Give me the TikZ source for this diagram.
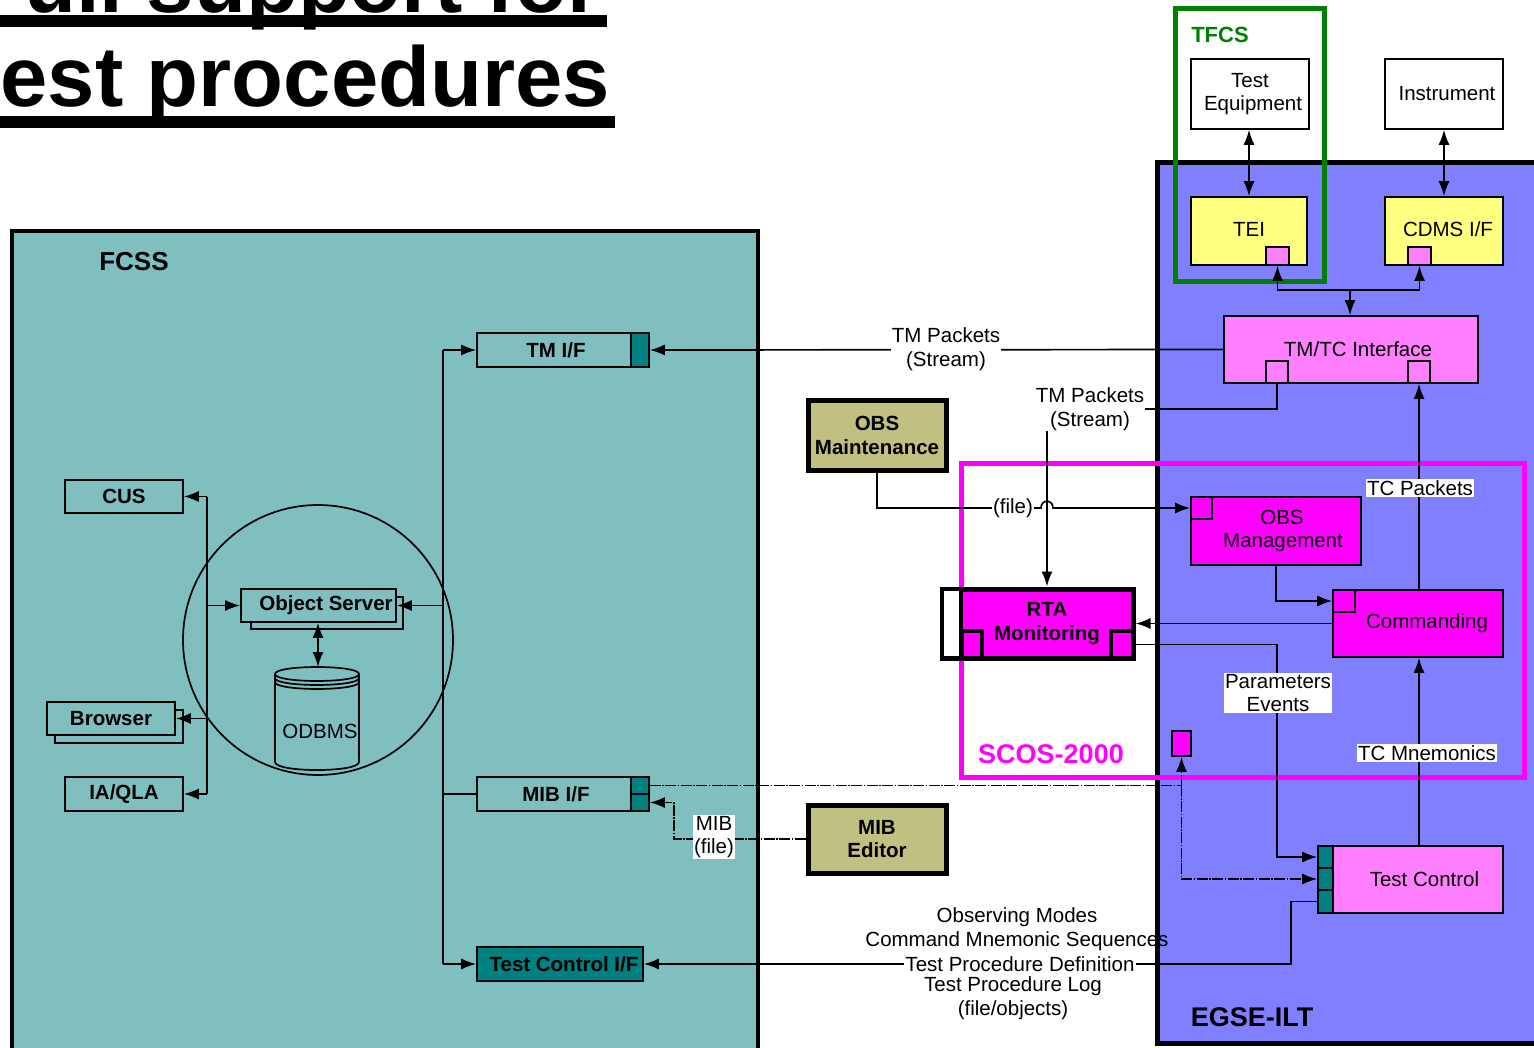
\documentclass[tikz,border=0pt]{standalone}
\usepackage{fontspec}
\setmainfont{Liberation Sans}
\usetikzlibrary{arrows.meta}
\definecolor{cFcss}{RGB}{128,191,191}
\definecolor{cDteal}{RGB}{0,128,128}
\definecolor{cEgse}{RGB}{128,128,255}
\definecolor{cMag}{RGB}{255,0,255}
\definecolor{cPink}{RGB}{255,128,255}
\definecolor{cYel}{RGB}{255,255,128}
\definecolor{cOlive}{RGB}{192,192,128}
\definecolor{cGreen}{RGB}{0,128,0}
\newcommand\myNF{\fontsize{20.5}{23.5}\selectfont}
\newcommand\myBF{\fontsize{20.5}{23.5}\selectfont\bfseries}
\tikzset{
  box/.style={draw=black, line width=1.6pt, rectangle, inner sep=0pt, align=center, font=\myNF},
  bbox/.style={box, font=\myBF},
  port/.style={draw=black, line width=1.6pt, rectangle, inner sep=0pt},
  conn/.style={line width=1.7pt},
  arr/.style={conn, -{Latex[length=15pt,width=11pt]}},
  dbl/.style={conn, {Latex[length=15pt,width=11pt]}-{Latex[length=15pt,width=11pt]}},
  dsh/.style={dash pattern=on 11pt off 1.5pt on 1.5pt off 1.5pt},
  lbl/.style={inner sep=1pt, align=center, font=\myNF},
  lblw/.style={lbl, fill=white},
  ttl/.style={anchor=base west, inner sep=0pt, font=\fontsize{85}{90}\selectfont\bfseries},
}
\begin{document}
\begin{tikzpicture}[x=1pt,y=-1pt]
\clip (0,0) rectangle (1534,1048);
\useasboundingbox (0,0) rectangle (1534,1048);
% title
\node[ttl] (title1) at (-28,13) {Full support for};
\node[ttl] (title2) at (-28,107) {test procedures};
\fill (0,15) rectangle (607,27);
\fill (0,116) rectangle (615,128);

% FCSS frame
\draw[fill=cFcss, line width=4pt] (12,231) rectangle (758,1080);
\node[inner sep=0pt, font=\fontsize{26}{30}\selectfont\bfseries] (fcsslbl) at (134,262) {FCSS};
% EGSE frame
\draw[fill=cEgse, line width=5pt] (1157,163) rectangle (1600,1043);
\node[inner sep=0pt, font=\fontsize{27}{30}\selectfont\bfseries] (egselbl) at (1252,1017) {EGSE-ILT};
% TFCS frame
\draw[cGreen, line width=5pt] (1175,9) rectangle (1324,282);
\node[inner sep=0pt, text=cGreen, font=\fontsize{22}{26}\selectfont\bfseries] (tfcslbl) at (1220,35) {TFCS};
% SCOS frame
\draw[cMag, line width=5pt] (961,463) rectangle (1524,777);
\node[inner sep=0pt, text=cMag, font=\fontsize{27}{30}\selectfont\bfseries] (scoslbl) at (1051,754) {SCOS-2000};

% circle and database
\draw[conn] (318,640) circle [radius=135];
\draw[conn, fill=cFcss] (275,674) -- (275,762) .. controls (275,772.7) and (359,772.7) .. (359,762)
   -- (359,674) .. controls (359,664.7) and (275,664.7) .. (275,674) -- cycle;
\draw[conn] (275,674) .. controls (275,683.3) and (359,683.3) .. (359,674);
\draw[conn] (275,678) .. controls (275,687.3) and (359,687.3) .. (359,678);
\draw[conn] (275,682) .. controls (275,691.3) and (359,691.3) .. (359,682);
\node[lbl] (odbms) at (320,731) {ODBMS};
\coordinate (odtop) at (318,667);

% FCSS nodes
\draw[conn, fill=cFcss] (251,597) rectangle (403,629);
\node[bbox, fill=cFcss, minimum width=155pt, minimum height=33pt] (objsrv) at (318.5,605.5) {\hspace*{15pt}Object Server};
\node[bbox, fill=cFcss, minimum width=118pt, minimum height=33pt] (cus) at (124,496.5) {CUS};
\draw[conn, fill=cFcss] (55,710) rectangle (183,743);
\node[bbox, fill=cFcss, minimum width=128pt, minimum height=33pt] (browser) at (111,718.5) {Browser};
\node[bbox, fill=cFcss, minimum width=118pt, minimum height=34pt] (iaqla) at (124,794) {IA/QLA};
\node[bbox, fill=cFcss, minimum width=172pt, minimum height=34pt] (tmif) at (563,350) {TM I/F\hspace*{14pt}};
\node[port, fill=cDteal, minimum width=18pt, minimum height=34pt] (tmifp) at (640,350) {};
\node[bbox, fill=cFcss, minimum width=172pt, minimum height=34pt] (mibif) at (563,794) {MIB I/F\hspace*{14pt}};
\node[port, fill=cDteal, minimum width=18pt, minimum height=17pt] (mibp1) at (640,785.5) {};
\node[port, fill=cDteal, minimum width=18pt, minimum height=17pt] (mibp2) at (640,802.5) {};
\node[bbox, fill=cDteal, minimum width=166pt, minimum height=34pt] (tcif) at (560,964) {\hspace*{8pt}Test Control I/F};

% middle nodes
\node[bbox, fill=cOlive, line width=5pt, minimum width=138pt, minimum height=69pt] (obsmaint) at (877,435.5) {OBS\\Maintenance};
\node[bbox, fill=cOlive, line width=5pt, minimum width=138pt, minimum height=68pt] (mibed) at (877,839) {MIB\\Editor};
\node[bbox, fill=cMag, line width=5pt, minimum width=191pt, minimum height=69pt] (rta) at (1037.5,623.5) {\hspace*{19pt}RTA\\\hspace*{19pt}Monitoring};
\node[port, fill=white, line width=4pt, minimum width=19pt, minimum height=69pt] (rtal) at (951.5,623.5) {};
\node[port, fill=cMag, line width=4pt, minimum width=20pt, minimum height=27pt] (rtap1) at (972,644.5) {};
\node[port, fill=cMag, line width=4pt, minimum width=22pt, minimum height=27pt] (rtap2) at (1122,644.5) {};

% EGSE / TFCS nodes
\node[box, fill=white, minimum width=118pt, minimum height=70pt] (te) at (1250,94) {Test\\\hspace*{6pt}Equipment};
\node[box, fill=white, minimum width=118pt, minimum height=70pt] (inst) at (1444,94) {\hspace*{6pt}Instrument};
\node[box, fill=cYel, minimum width=116pt, minimum height=68pt] (tei) at (1249,231) {\raisebox{3pt}{TEI}};
\node[port, fill=cPink, minimum width=23pt, minimum height=18pt] (teip) at (1277.5,256) {};
\node[box, fill=cYel, minimum width=118pt, minimum height=68pt] (cdms) at (1444,231) {\raisebox{3pt}{\hspace*{8pt}CDMS I/F}};
\node[port, fill=cPink, minimum width=23pt, minimum height=18pt] (cdmsp) at (1419.5,256) {};
\node[box, fill=cPink, minimum width=254pt, minimum height=67pt] (tmtc) at (1351,349.5) {\hspace*{14pt}TM/TC Interface};
\node[port, fill=cPink, minimum width=22pt, minimum height=22pt] (tmtcp1) at (1277,372) {};
\node[port, fill=cPink, minimum width=22pt, minimum height=22pt] (tmtcp2) at (1419,372) {};
\node[box, fill=cMag, minimum width=170pt, minimum height=68pt] (obsmgmt) at (1276,531) {\hspace*{12pt}OBS\\\hspace*{14pt}Management};
\node[port, fill=cMag, minimum width=21pt, minimum height=22pt] (obsmgmtp) at (1201.5,508) {};
\node[box, fill=cMag, minimum width=170pt, minimum height=67pt] (cmd) at (1418,623.5) {\hspace*{18pt}Commanding};
\node[port, fill=cMag, minimum width=22pt, minimum height=22pt] (cmdp) at (1344,601) {};
\node[box, fill=cPink, minimum width=185pt, minimum height=67pt] (tc) at (1410.5,879.5) {\hspace*{28pt}Test Control};
\node[port, fill=cDteal, minimum width=15pt, minimum height=22pt] (tcp1) at (1325.5,857) {};
\node[port, fill=cDteal, minimum width=15pt, minimum height=22pt] (tcp2) at (1325.5,879) {};
\node[port, fill=cDteal, minimum width=15pt, minimum height=23pt] (tcp3) at (1325.5,901.5) {};
\node[port, fill=cMag, minimum width=19pt, minimum height=25pt] (smallsq) at (1181.5,743.5) {};

% coordinates
\coordinate (lv) at (207,0);
\coordinate (rv) at (443,0);
\coordinate (jn) at (1350,290);
\coordinate (tm2) at (1047,409);
\coordinate (hopL) at (1041,508);
\coordinate (hopR) at (1053,508);
\coordinate (pe) at (1277,644.5);
\coordinate (dj) at (1181.5,785.5);
\coordinate (mb) at (674,839);
\coordinate (tq) at (1291,964);

% FCSS connectors
\draw[conn] (cus.east -| lv) -- (iaqla.east -| lv);
\draw[arr] (cus.east -| lv) -- (cus.east);
\draw[arr] (browser.east -| lv) -- (browser.east);
\draw[arr] (iaqla.east -| lv) -- (iaqla.east);
\draw[arr] (objsrv.west -| lv) -- (objsrv.west);
\draw[conn] (tmif.west -| rv) -- (tcif.west -| rv);
\draw[arr] (tmif.west -| rv) -- (tmif.west);
\draw[conn] (mibif.west -| rv) -- (mibif.west);
\draw[arr] (tcif.west -| rv) -- (tcif.west);
\draw[arr] (objsrv.east -| rv) -- (objsrv.east);
\draw[dbl] (objsrv.south -| odtop) -- (odtop);

% top connectors
\draw[dbl] (tei.north) -- (tei.north |- te.south);
\draw[dbl] (cdms.north) -- (inst.south);
\draw[arr] (jn) -| (teip.south);
\draw[arr] (jn) -| (cdmsp.south);
\draw[arr] (jn) -- (jn |- tmtc.north);

% TM packets
\draw[arr] (tmtc.west) -- (tmifp.east);
\node[lblw] (l1) at (946,349) {TM Packets\\(Stream)};
\draw[arr] (tmtcp1.south) |- (tm2) -- (tm2 |- rta.north);
\node[lblw] (l2) at (1090,409) {TM Packets\\(Stream)};

% OBS file
\draw[arr] (obsmaint.south) |- (hopL) .. controls +(0,-9) and +(0,-9) .. (hopR) -- (obsmgmtp.west);
\node[lblw] (l3) at (1013,508) {(file)};
\draw[arr] (obsmgmt.south) |- (cmdp.west);
\draw[arr] (cmd.west) -- (rta.east);
\draw[arr] (tmtcp2.south |- cmd.north) -- (tmtcp2.south);
\node[lblw] (l4) at (1420,488) {TC Packets};
\draw[arr] (rtap2.east) -- (pe) |- (tcp1.west);
\node[lblw] (l5) at (1278,693) {Parameters\\Events};
\draw[arr] (tc.north -| tmtcp2) -- (cmd.south -| tmtcp2);
\node[lblw] (l6) at (1427,753) {TC Mnemonics};

% dashed MIB
\draw[conn, dsh] (mibp1.east) -- (dj);
\draw[arr, dsh] (dj) -- (smallsq.south);
\draw[arr, dsh] (dj) |- (tcp2.west);
\draw[arr, dsh] (mibed.west) -- (mb) |- (mibp2.east);
\node[lblw] (l7) at (714,837) {MIB\\(file)};

% test procedure
\draw[arr] (tcp3.west) -| (tq) -- (tcif.east);
\node[lbl] (l8) at (1017,929) {Observing Modes\\Command Mnemonic Sequences};
\node[lblw] (l9) at (1020,964) {Test Procedure Definition};
\node[lbl] (l10) at (1013,998) {Test Procedure Log\\(file/objects)};
\end{tikzpicture}
\end{document}
